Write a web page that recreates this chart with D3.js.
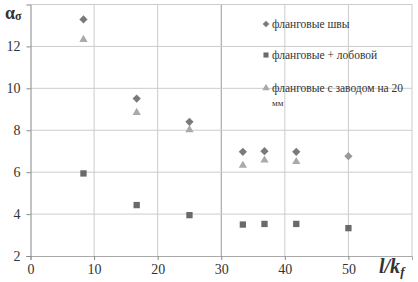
<!DOCTYPE html>
<head>
  <meta charset="utf-8">
  <script src="https://d3js.org/d3.v7.min.js"></script>
</head>
<body style="margin:0; background:#fff">
  <svg width="418" height="282"></svg>
  <script>
    // data
    const xValues = [8.33, 16.7, 25, 33.4, 36.8, 41.8, 50];
    const flankValues = [13.29, 9.51, 8.4, 6.97, 7.0, 6.97, 6.76];
    const flankFrontValues = [5.94, 4.43, 3.95, 3.5, 3.53, 3.53, 3.33];
    const flankRunValues = [12.33, 8.84, 8.02, 6.32, 6.57, 6.5, null];
    const xTicks = [0, 10, 20, 30, 40, 50];
    const yTicks = [2, 4, 6, 8, 10, 12];
    const seriesNames = ['фланговые швы', 'фланговые + лобовой', 'фланговые с заводом на 20'];

    const FONT = 'Liberation Serif';
    const margin = { left: 30.5, right: 6, top: 4.5, bottom: 26 };
    const W = 418, H = 282;
    const svg = d3.select('svg');

    const x = d3.scaleLinear().domain([0, 60]).range([margin.left, W - margin.right]);
    const y = d3.scaleLinear().domain([2, 14]).range([H - margin.bottom, margin.top]);

    // grid
    svg.append('g').selectAll('line').data(xTicks.slice(1).concat([60]))
      .join('line')
      .attr('x1', d => x(d)).attr('x2', d => x(d))
      .attr('y1', y(14)).attr('y2', y(2))
      .attr('stroke', d => d === 30 ? '#999' : '#ccc').attr('stroke-width', 1);
    svg.append('g').selectAll('line').data(yTicks.slice(1).concat([14]))
      .join('line')
      .attr('x1', x(0)).attr('x2', x(60))
      .attr('y1', d => y(d)).attr('y2', d => y(d))
      .attr('stroke', '#ccc').attr('stroke-width', 1);

    // axes
    const xAxis = svg.append('g')
      .attr('transform', `translate(0,${y(2)})`)
      .call(d3.axisBottom(x).tickValues(xTicks).tickSize(4).tickPadding(4));
    const yAxis = svg.append('g')
      .attr('transform', `translate(${x(0)},0)`)
      .call(d3.axisLeft(y).tickValues(yTicks).tickSize(4).tickPadding(6));
    [xAxis, yAxis].forEach(a => {
      a.attr('font-family', FONT).attr('font-size', 14);
      a.select('.domain').attr('stroke', '#888');
      a.selectAll('.tick line').attr('stroke', '#888');
      a.selectAll('text').attr('fill', '#333').attr('font-family', FONT);
    });
    xAxis.select('.domain').attr('stroke', '#aaa');

    // axis titles
    const ya = svg.append('text').attr('x', 5).attr('y', 19).attr('font-family', FONT)
      .attr('font-size', 18).attr('font-weight', 'bold').attr('fill', '#333');
    ya.append('tspan').text('α');
    ya.append('tspan').attr('font-size', 12).attr('dy', 1).text('σ');
    const xa = svg.append('text').attr('x', 379).attr('y', 273).attr('font-family', FONT)
      .attr('font-size', 20).attr('font-weight', 'bold').attr('font-style', 'italic').attr('fill', '#333');
    xa.append('tspan').text('l/k');
    xa.append('tspan').attr('font-size', 13).attr('dy', 3).text('f');

    const diamond = d3.symbol().type(d3.symbolSquare).size(34);
    const square = d3.symbol().type(d3.symbolSquare).size(40);
    const triangle = d3.symbol().type(d3.symbolTriangle).size(30);

    const pts = (vals) => xValues.map((xv, i) => ({ x: xv, y: vals[i], i })).filter(d => d.y != null);

    svg.append('g').selectAll('path').data(pts(flankRunValues)).join('path')
      .attr('d', triangle).attr('fill', '#aaa')
      .attr('transform', d => `translate(${x(d.x)},${y(d.y)})`);
    svg.append('g').selectAll('path').data(pts(flankValues)).join('path')
      .attr('d', diamond).attr('fill', d => d.i === 6 ? '#999' : '#7a7a7a')
      .attr('transform', d => `translate(${x(d.x)},${y(d.y)}) rotate(45)`);
    svg.append('g').selectAll('path').data(pts(flankFrontValues)).join('path')
      .attr('d', square).attr('fill', '#6a6a6a')
      .attr('transform', d => `translate(${x(d.x)},${y(d.y)})`);

    // legend
    const legend = svg.append('g').attr('font-family', FONT).attr('font-size', 11.5).attr('fill', '#333');
    const legendY = [24, 55, 88];
    const legendSym = [diamond.size(22), square.size(26), triangle.size(24)];
    const legendCol = ['#7a7a7a', '#6a6a6a', '#aaa'];
    seriesNames.forEach((name, i) => {
      legend.append('path').attr('d', legendSym[i]())
        .attr('fill', legendCol[i])
        .attr('transform', `translate(266,${legendY[i]})` + (i === 0 ? ' rotate(45)' : ''));
      legend.append('text').attr('x', 272).attr('y', legendY[i] + 4)
        .attr('font-family', FONT).text(name);
    });
    legend.append('text').attr('x', 272).attr('y', 106).attr('font-size', 9)
      .attr('font-family', FONT).text('мм');
  </script>
</body>
